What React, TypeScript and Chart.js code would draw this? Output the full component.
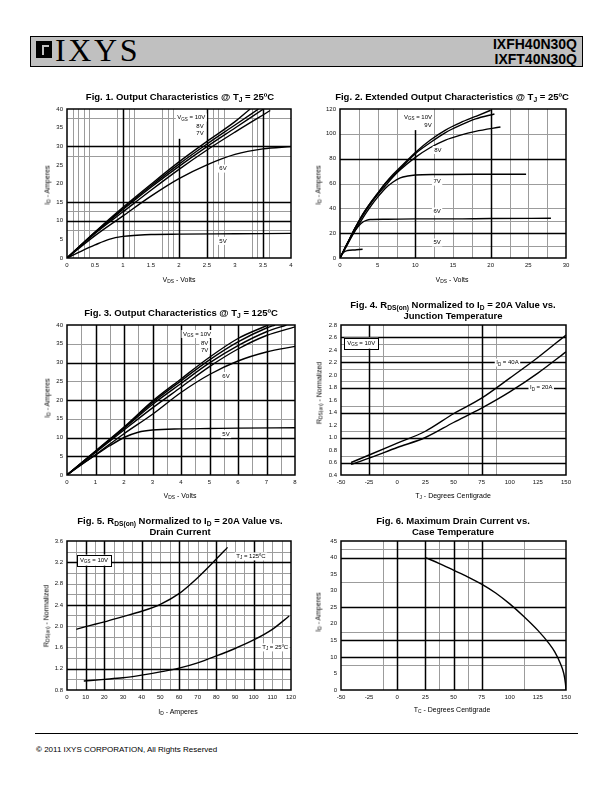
import React, { useEffect, useRef } from "react";
import { Chart, registerables } from "chart.js";

Chart.register(...registerables);

type Pt = [number, number];
type Seg = [number, number, number];
type Part = [string, boolean];
interface Note { x: number; y: number; parts: Part[]; box?: boolean }

const FONT = '"Liberation Sans", Arial, Helvetica, sans-serif';
const NARROW = '"Liberation Sans Narrow", "Arial Narrow", "Liberation Sans", Arial, sans-serif';

// ---------------- Fig. 1 : Output characteristics @ 25C ----------------
const fig1XTicks = [0, 0.5, 1, 1.5, 2, 2.5, 3, 3.5, 4];
const fig1XLabels = ["0", "0.5", "1", "1.5", "2", "2.5", "3", "3.5", "4"];
const fig1YTicks = [0, 5, 10, 15, 20, 25, 30, 35, 40];
const fig1YLabels = ["0", "5", "10", "15", "20", "25", "30", "35", "40"];
const fig1Vgs10: Pt[] = [[0, 0], [0.5, 7], [1, 13.6], [1.5, 19.8], [2, 25.8], [2.5, 31.3], [3, 36.6], [3.27, 40]];
const fig1Vgs9: Pt[] = [[0, 0], [0.5, 6.9], [1, 13.3], [1.5, 19.4], [2, 25.2], [2.5, 30.6], [3, 35.7], [3.42, 40]];
const fig1Vgs8: Pt[] = [[0, 0], [0.5, 6.8], [1, 13], [1.5, 19], [2, 24.6], [2.5, 29.9], [3, 34.9], [3.51, 40]];
const fig1Vgs7: Pt[] = [[0, 0], [0.5, 6.6], [1, 12.4], [1.5, 18.2], [2, 23.8], [2.5, 29], [3, 33.8], [3.63, 39.6]];
const fig1Vgs6: Pt[] = [[0, 0], [0.5, 6], [1, 11.3], [1.5, 16.6], [2, 21.3], [2.5, 25], [3, 27.8], [3.5, 29.3], [4, 29.9]];
const fig1Vgs5: Pt[] = [[0, 0], [0.25, 1.8], [0.5, 3.5], [0.75, 5], [1, 5.8], [1.25, 6.1], [1.5, 6.3], [2, 6.4], [3, 6.5], [4, 6.6]];
const fig1BlackX = [1, 2.5, 3.5];
const fig1GrayX = [0.1, 0.2, 0.3, 0.4, 0.9, 1.1, 1.2, 1.7, 1.8, 1.9, 2.6, 2.7, 2.8, 3.3, 3.4, 3.6];
const fig1BlackY = [10, 15, 30];
const fig1GrayY = [7.5, 12.5, 27.5, 37.5];
const fig1PartialX: Seg[] = [[2, 0, 32]];

// ---------------- Fig. 2 : Extended output characteristics ----------------
const fig2XTicks = [0, 5, 10, 15, 20, 25, 30];
const fig2XLabels = ["0", "5", "10", "15", "20", "25", "30"];
const fig2YTicks = [0, 20, 40, 60, 80, 100, 120];
const fig2YLabels = ["0", "20", "40", "60", "80", "100", "120"];
const fig2Vgs10: Pt[] = [[0, 0], [1, 12], [2, 24], [3, 35], [4, 44], [5, 52], [6, 60], [7, 67], [8, 73], [10, 85], [12, 95], [14, 103], [16, 109], [18, 114], [20, 119]];
const fig2Vgs9: Pt[] = [[0, 0], [1, 12], [2, 24], [3, 35], [4, 44], [5, 52], [6, 60], [7, 66], [8, 72], [10, 84], [12, 93], [14, 101], [16, 107], [18, 112], [20.5, 116]];
const fig2Vgs8: Pt[] = [[0, 0], [1, 12], [2, 24], [3, 34], [4, 43], [5, 51], [6, 58], [7, 65], [8, 71], [10, 81], [12, 89], [14, 95], [16, 99], [18, 102], [21.3, 105.5]];
const fig2Vgs7: Pt[] = [[0, 0], [1, 11], [2, 22], [3, 32], [4, 41], [5, 49], [6, 56], [7, 61], [8, 64.5], [9, 66], [10, 66.8], [13, 67.3], [18, 67.5], [24.7, 67.5]];
const fig2Vgs6: Pt[] = [[0, 0], [1, 12], [2, 22], [2.5, 26], [3, 28.8], [3.5, 30.3], [4, 31], [6, 31.2], [10, 31.5], [15, 31.5], [20, 31.8], [28, 32]];
const fig2Vgs5: Pt[] = [[0, 0], [0.3, 3.5], [0.6, 5.2], [1, 6], [2, 6.5], [3, 7]];
const fig2BlackX = [20];
const fig2GrayX = [2.5, 5, 7.5, 12.5, 15, 17.5, 22.5, 25, 27.5];
const fig2BlackY = [20, 80];
const fig2GrayY = [10, 30, 40, 60, 100];
const fig2PartialX: Seg[] = [[10, 0, 103]];

// ---------------- Fig. 3 : Output characteristics @ 125C ----------------
const fig3XTicks = [0, 1, 2, 3, 4, 5, 6, 7, 8];
const fig3XLabels = ["0", "1", "2", "3", "4", "5", "6", "7", "8"];
const fig3YTicks = [0, 5, 10, 15, 20, 25, 30, 35, 40];
const fig3YLabels = ["0", "5", "10", "15", "20", "25", "30", "35", "40"];
const fig3Vgs10: Pt[] = [[0, 0], [1, 6.4], [2, 12.8], [3, 19.7], [4, 25.6], [5, 31.4], [6, 36.4], [7.06, 40]];
const fig3Vgs9: Pt[] = [[0, 0], [1, 6.3], [2, 12.6], [3, 19.3], [4, 25.1], [5, 30.7], [6, 35.5], [7, 39.2], [7.3, 40]];
const fig3Vgs8: Pt[] = [[0, 0], [1, 6.2], [2, 12.4], [3, 18.8], [4, 24.4], [5, 29.9], [6, 34.5], [7, 38.2], [7.7, 40]];
const fig3Vgs7: Pt[] = [[0, 0], [1, 6], [2, 12], [3, 17.9], [4, 23.4], [5, 28.9], [6, 33.6], [7, 37.2], [8, 39.5]];
const fig3Vgs6: Pt[] = [[0, 0], [1, 5.4], [2, 11], [3, 16.2], [4, 22], [5, 26.8], [6, 30.4], [7, 32.8], [8, 34.3]];
const fig3Vgs5: Pt[] = [[0, 0], [0.5, 2.8], [1, 5.3], [1.5, 7.8], [2, 10], [2.5, 11.4], [3, 12], [4, 12.3], [5, 12.4], [6, 12.5], [8, 12.6]];
const fig3BlackX = [1, 2, 3, 4, 5, 6, 7];
const fig3GrayX = [0.5, 1.5, 2.5, 3.5, 4.5, 5.5, 6.5, 7.5];
const fig3BlackY = [5, 10, 20, 30];
const fig3GrayY = [15, 25, 35];
const fig3PartialX: Seg[] = [];

// ---------------- Fig. 4 : RDS(on) vs junction temperature ----------------
const fig4XTicks = [-50, -25, 0, 25, 50, 75, 100, 125, 150];
const fig4XLabels = ["-50", "-25", "0", "25", "50", "75", "100", "125", "150"];
const fig4YTicks = [0.4, 0.6, 0.8, 1.0, 1.2, 1.4, 1.6, 1.8, 2.0, 2.2, 2.4, 2.6, 2.8];
const fig4YLabels = ["0.4", "0.6", "0.8", "1.0", "1.2", "1.4", "1.6", "1.8", "2.0", "2.2", "2.4", "2.6", "2.8"];
const fig4Id40: Pt[] = [[-41, 0.6], [-25, 0.72], [0, 0.91], [25, 1.1], [50, 1.38], [75, 1.63], [100, 1.95], [125, 2.28], [150, 2.64]];
const fig4Id20: Pt[] = [[-41, 0.57], [-25, 0.67], [0, 0.84], [25, 1.0], [50, 1.24], [75, 1.47], [100, 1.73], [125, 2.03], [150, 2.37]];
const fig4BlackX = [-25, 75];
const fig4GrayX = [-12.5, 62.5, 87.5];
const fig4BlackY = [0.6, 1.0, 1.4, 1.8, 2.2, 2.6];
const fig4GrayY = [0.7, 1.1, 1.5, 1.9, 2.1, 2.3, 2.5];

// ---------------- Fig. 5 : RDS(on) vs drain current ----------------
const fig5XTicks = [0, 10, 20, 30, 40, 50, 60, 70, 80, 90, 100, 110, 120];
const fig5XLabels = ["0", "10", "20", "30", "40", "50", "60", "70", "80", "90", "100", "110", "120"];
const fig5YTicks = [0.8, 1.2, 1.6, 2.0, 2.4, 2.8, 3.2, 3.6];
const fig5YLabels = ["0.8", "1.2", "1.6", "2.0", "2.4", "2.8", "3.2", "3.6"];
const fig5Tj125: Pt[] = [[5, 1.94], [10, 1.99], [20, 2.08], [30, 2.18], [40, 2.28], [50, 2.41], [60, 2.61], [70, 2.91], [80, 3.26], [86, 3.48]];
const fig5Tj25: Pt[] = [[9, 0.97], [20, 1.0], [30, 1.03], [40, 1.08], [50, 1.14], [60, 1.21], [70, 1.31], [80, 1.44], [90, 1.58], [100, 1.74], [110, 1.94], [119, 2.19]];
const fig5BlackX = [10, 20, 40, 60, 80, 100];
const fig5GrayX = [5, 15, 25, 30, 35, 45, 50, 55, 65, 70, 75, 85, 90, 95, 105, 110, 115];
const fig5BlackY = [1.2, 2.4, 3.2];
const fig5GrayY = [1.0, 1.4, 1.6, 1.8, 2.0, 2.2, 2.6, 2.8, 3.0, 3.4];

// ---------------- Fig. 6 : Max drain current vs case temperature ----------------
const fig6XTicks = [-50, -25, 0, 25, 50, 75, 100, 125, 150];
const fig6XLabels = ["-50", "-25", "0", "25", "50", "75", "100", "125", "150"];
const fig6YTicks = [0, 5, 10, 15, 20, 25, 30, 35, 40, 45];
const fig6YLabels = ["0", "5", "10", "15", "20", "25", "30", "35", "40", "45"];
const fig6Id: Pt[] = [[25, 40], [37.5, 38.2], [50, 36.2], [62.5, 34.2], [75, 32], [87.5, 29.3], [100, 26], [112.5, 22.2], [125, 18], [135, 14], [140, 11.5], [145, 8], [148, 5], [149.5, 2], [150, 0]];
const fig6BlackX = [0, 25, 50, 75];
const fig6GrayX = [-12.5, 37.5, 62.5, 112.5];
const fig6BlackY = [10, 15, 25, 40];
const fig6GrayY = [7.5, 17.5, 32.5, 42.5];

// ---------------- in-plot labels ----------------
const vgs10: Part[] = [["V", false], ["GS", true], [" = 10V", false]];
const fig1Notes: Note[] = [
  { x: 1.97, y: 37.7, parts: vgs10 },
  { x: 2.31, y: 35.4, parts: [["8V", false]] },
  { x: 2.31, y: 33.5, parts: [["7V", false]] },
  { x: 2.72, y: 24, parts: [["6V", false]] },
  { x: 2.72, y: 4.6, parts: [["5V", false]] },
];
const fig2Notes: Note[] = [
  { x: 8.5, y: 113.5, parts: vgs10 },
  { x: 11.2, y: 107, parts: [["9V", false]] },
  { x: 12.5, y: 87, parts: [["8V", false]] },
  { x: 12.4, y: 61.5, parts: [["7V", false]] },
  { x: 12.4, y: 37.5, parts: [["6V", false]] },
  { x: 12.4, y: 12.5, parts: [["5V", false]] },
];
const fig3Notes: Note[] = [
  { x: 4.07, y: 37.6, parts: vgs10 },
  { x: 4.7, y: 35.2, parts: [["8V", false]] },
  { x: 4.7, y: 33.3, parts: [["7V", false]] },
  { x: 5.45, y: 26.4, parts: [["6V", false]] },
  { x: 5.45, y: 10.9, parts: [["5V", false]] },
];
const fig4Notes: Note[] = [
  { x: -44.5, y: 2.51, parts: vgs10, box: true },
  { x: 88, y: 2.2, parts: [["I", false], ["D", true], [" = 40A", false]] },
  { x: 118, y: 1.8, parts: [["I", false], ["D", true], [" = 20A", false]] },
];
const fig5Notes: Note[] = [
  { x: 7, y: 3.24, parts: vgs10, box: true },
  { x: 90.7, y: 3.31, parts: [["T", false], ["J", true], [" = 125ºC", false]] },
  { x: 104.6, y: 1.6, parts: [["T", false], ["J", true], [" = 25ºC", false]] },
];

interface Spec {
  plot: [number, number, number, number];
  xTicks: number[]; xLabels: string[];
  yTicks: number[]; yLabels: string[];
  series: Pt[][];
  blackX: number[]; grayX: number[]; blackY: number[]; grayY: number[];
  partialX?: Seg[];
  notes?: Note[];
}

const PAD_L = 30, PAD_T = 8, PAD_R = 12, PAD_B = 16;

function ChartPanel({ spec }: { spec: Spec }) {
  const ref = useRef<HTMLCanvasElement>(null);
  const [l, t, r, b] = spec.plot;
  const w = r - l + PAD_L + PAD_R;
  const h = b - t + PAD_T + PAD_B;
  useEffect(() => {
    const gridPlugin = {
      id: "sheetGrid",
      beforeDatasetsDraw(chart: any) {
        const { ctx, chartArea, scales } = chart;
        const xs = scales.x, ys = scales.y;
        const { left, top, right, bottom } = chartArea;
        ctx.save();
        const vline = (v: number, y0?: number, y1?: number) => {
          const px = Math.round(xs.getPixelForValue(v)) + 0.5;
          const a = y1 === undefined ? top : ys.getPixelForValue(y1);
          const z = y0 === undefined ? bottom : ys.getPixelForValue(y0);
          ctx.beginPath(); ctx.moveTo(px, a); ctx.lineTo(px, z); ctx.stroke();
        };
        const hline = (v: number) => {
          const py = Math.round(ys.getPixelForValue(v)) + 0.5;
          ctx.beginPath(); ctx.moveTo(left, py); ctx.lineTo(right, py); ctx.stroke();
        };
        ctx.strokeStyle = "#9c9c9c"; ctx.lineWidth = 1;
        spec.grayX.forEach((v) => vline(v));
        spec.grayY.forEach((v) => hline(v));
        ctx.strokeStyle = "#000"; ctx.lineWidth = 1.5;
        spec.blackX.forEach((v) => vline(v));
        spec.blackY.forEach((v) => hline(v));
        (spec.partialX || []).forEach(([v, a, z]) => vline(v, a, z));
        ctx.restore();
      },
      afterDatasetsDraw(chart: any) {
        const { ctx, chartArea, scales } = chart;
        const { left, top, right, bottom } = chartArea;
        ctx.save();
        ctx.strokeStyle = "#000"; ctx.lineWidth = 1.5;
        ctx.strokeRect(left, top, right - left, bottom - top);
        (spec.notes || []).forEach((n) => {
          const px = scales.x.getPixelForValue(n.x);
          const py = scales.y.getPixelForValue(n.y);
          const big = `6px ${FONT}`, small = `4.5px ${FONT}`;
          let wsum = 0;
          const widths = n.parts.map(([s, sub]) => { ctx.font = sub ? small : big; const m = ctx.measureText(s).width; wsum += m; return m; });
          const padX = n.box ? 3 : 1.5;
          ctx.fillStyle = "#fff";
          ctx.fillRect(px - padX, py - (n.box ? 5.5 : 4), wsum + 2 * padX, n.box ? 11 : 8);
          if (n.box) { ctx.lineWidth = 1; ctx.strokeRect(Math.round(px - padX) + 0.5, Math.round(py - 5.5) + 0.5, Math.round(wsum + 2 * padX), 11); }
          ctx.fillStyle = "#000"; ctx.textBaseline = "middle"; ctx.textAlign = "left";
          let cx = px;
          n.parts.forEach(([s, sub], i) => { ctx.font = sub ? small : big; ctx.fillText(s, cx, sub ? py + 1.8 : py); cx += widths[i]; });
        });
        ctx.restore();
      },
    };
    const tickFont = { family: FONT, size: 6 };
    const chart = new Chart(ref.current as HTMLCanvasElement, {
      type: "scatter",
      data: {
        datasets: spec.series.map((s) => ({
          data: s.map(([x, y]) => ({ x, y })),
          showLine: true,
          borderColor: "#000",
          backgroundColor: "#000",
          borderWidth: 1.4,
          pointRadius: 0,
          cubicInterpolationMode: "monotone" as const,
          fill: false,
        })),
      },
      options: {
        animation: false,
        responsive: false,
        devicePixelRatio: 1,
        layout: { padding: { left: 0, top: PAD_T, right: PAD_R, bottom: 0 } },
        plugins: { legend: { display: false }, tooltip: { enabled: false }, title: { display: false } },
        scales: {
          x: {
            type: "linear",
            min: spec.xTicks[0],
            max: spec.xTicks[spec.xTicks.length - 1],
            grid: { display: false, drawTicks: false },
            border: { display: false },
            ticks: { autoSkip: false, maxRotation: 0, padding: 4, color: "#111", font: tickFont, callback: (_v: any, i: number) => spec.xLabels[i] },
            afterBuildTicks: (s: any) => { s.ticks = spec.xTicks.map((v) => ({ value: v })); },
            afterFit: (s: any) => { s.height = PAD_B; },
          },
          y: {
            type: "linear",
            min: spec.yTicks[0],
            max: spec.yTicks[spec.yTicks.length - 1],
            grid: { display: false, drawTicks: false },
            border: { display: false },
            ticks: { autoSkip: false, padding: 4, color: "#111", font: tickFont, callback: (_v: any, i: number) => spec.yLabels[i] },
            afterBuildTicks: (s: any) => { s.ticks = spec.yTicks.map((v) => ({ value: v })); },
            afterFit: (s: any) => { s.width = PAD_L; },
          },
        },
      },
      plugins: [gridPlugin],
    } as any);
    return () => chart.destroy();
  }, []);
  return (
    <canvas
      ref={ref}
      width={w}
      height={h}
      style={{ position: "absolute", left: l - PAD_L, top: t - PAD_T, width: w, height: h }}
    />
  );
}

const subS: React.CSSProperties = { fontSize: "0.7em", verticalAlign: "-0.3em", lineHeight: 0 };

function Title({ x, y, children }: { x: number; y: number; children: React.ReactNode }) {
  return (
    <div style={{ position: "absolute", left: x, top: y, transform: "translate(-50%,-50%)", whiteSpace: "nowrap", fontFamily: NARROW, fontWeight: "bold", fontSize: 9.5, lineHeight: 1, color: "#000", willChange: "transform" }}>
      {children}
    </div>
  );
}

function AxisTitle({ x, y, rot, children }: { x: number; y: number; rot?: boolean; children: React.ReactNode }) {
  return (
    <div style={{ position: "absolute", left: x, top: y, transform: `translate(-50%,-50%)${rot ? " rotate(-90deg)" : ""}`, whiteSpace: "nowrap", fontFamily: FONT, fontSize: 7, lineHeight: 1, color: "#000", willChange: "transform" }}>
      {children}
    </div>
  );
}

const specs: Spec[] = [
  { plot: [67, 109, 291, 258], xTicks: fig1XTicks, xLabels: fig1XLabels, yTicks: fig1YTicks, yLabels: fig1YLabels,
    series: [fig1Vgs10, fig1Vgs9, fig1Vgs8, fig1Vgs7, fig1Vgs6, fig1Vgs5], blackX: fig1BlackX, grayX: fig1GrayX, blackY: fig1BlackY, grayY: fig1GrayY, partialX: fig1PartialX, notes: fig1Notes },
  { plot: [340, 109, 566, 258], xTicks: fig2XTicks, xLabels: fig2XLabels, yTicks: fig2YTicks, yLabels: fig2YLabels,
    series: [fig2Vgs10, fig2Vgs9, fig2Vgs8, fig2Vgs7, fig2Vgs6, fig2Vgs5], blackX: fig2BlackX, grayX: fig2GrayX, blackY: fig2BlackY, grayY: fig2GrayY, partialX: fig2PartialX, notes: fig2Notes },
  { plot: [67, 325, 295, 475], xTicks: fig3XTicks, xLabels: fig3XLabels, yTicks: fig3YTicks, yLabels: fig3YLabels,
    series: [fig3Vgs10, fig3Vgs9, fig3Vgs8, fig3Vgs7, fig3Vgs6, fig3Vgs5], blackX: fig3BlackX, grayX: fig3GrayX, blackY: fig3BlackY, grayY: fig3GrayY, partialX: fig3PartialX, notes: fig3Notes },
  { plot: [341, 325, 566, 475], xTicks: fig4XTicks, xLabels: fig4XLabels, yTicks: fig4YTicks, yLabels: fig4YLabels,
    series: [fig4Id40, fig4Id20], blackX: fig4BlackX, grayX: fig4GrayX, blackY: fig4BlackY, grayY: fig4GrayY, notes: fig4Notes },
  { plot: [67, 541, 291, 690], xTicks: fig5XTicks, xLabels: fig5XLabels, yTicks: fig5YTicks, yLabels: fig5YLabels,
    series: [fig5Tj125, fig5Tj25], blackX: fig5BlackX, grayX: fig5GrayX, blackY: fig5BlackY, grayY: fig5GrayY, notes: fig5Notes },
  { plot: [341, 541, 566, 690], xTicks: fig6XTicks, xLabels: fig6XLabels, yTicks: fig6YTicks, yLabels: fig6YLabels,
    series: [fig6Id], blackX: fig6BlackX, grayX: fig6GrayX, blackY: fig6BlackY, grayY: fig6GrayY },
];

export default function App() {
  return (
    <div style={{ position: "absolute", left: 0, top: 0, width: 612, height: 792, background: "#fff", overflow: "hidden" }}>
      {/* header */}
      <div style={{ position: "absolute", left: 30, top: 36, width: 551, height: 29, background: "#c0c0c0", border: "1px solid #000" }} />
      <div style={{ position: "absolute", left: 36, top: 41, width: 16, height: 17, background: "#000" }} />
      <div style={{ position: "absolute", left: 42, top: 45, width: 7, height: 2, background: "#c0c0c0" }} />
      <div style={{ position: "absolute", left: 42, top: 45, width: 2, height: 10, background: "#c0c0c0" }} />
      <div style={{ position: "absolute", left: 55, top: 34, fontFamily: '"Liberation Serif", "Times New Roman", serif', fontSize: 32, lineHeight: "33px", letterSpacing: 2.6, color: "#000" }}>IXYS</div>
      <div style={{ position: "absolute", right: 35, top: 37, textAlign: "right", fontFamily: FONT, fontWeight: "bold", fontSize: 14, lineHeight: "15px", color: "#000" }}>
        <div>IXFH40N30Q</div>
        <div>IXFT40N30Q</div>
      </div>

      {/* titles */}
      <Title x={180} y={97}>Fig. 1. Output Characteristics @ T<span style={subS}>J</span> = 25ºC</Title>
      <Title x={452} y={97}>Fig. 2. Extended Output Characteristics @ T<span style={subS}>J</span> = 25ºC</Title>
      <Title x={181} y={313}>Fig. 3. Output Characteristics @ T<span style={subS}>J</span> = 125ºC</Title>
      <Title x={453} y={305}>Fig. 4. R<span style={subS}>DS(on)</span> Normalized to I<span style={subS}>D</span> = 20A Value vs.</Title>
      <Title x={453} y={316}>Junction Temperature</Title>
      <Title x={180} y={521}>Fig. 5. R<span style={subS}>DS(on)</span> Normalized to I<span style={subS}>D</span> = 20A Value vs.</Title>
      <Title x={180} y={532}>Drain Current</Title>
      <Title x={453} y={521}>Fig. 6. Maximum Drain Current vs.</Title>
      <Title x={453} y={532}>Case Temperature</Title>

      {specs.map((s, i) => <ChartPanel key={i} spec={s} />)}

      {/* axis titles */}
      <AxisTitle x={179} y={279}>V<span style={subS}>DS</span> - Volts</AxisTitle>
      <AxisTitle x={47} y={185} rot>I<span style={subS}>D</span> - Amperes</AxisTitle>
      <AxisTitle x={452} y={279}>V<span style={subS}>DS</span> - Volts</AxisTitle>
      <AxisTitle x={318} y={185} rot>I<span style={subS}>D</span> - Amperes</AxisTitle>
      <AxisTitle x={180} y={495}>V<span style={subS}>DS</span> - Volts</AxisTitle>
      <AxisTitle x={47} y={398} rot>I<span style={subS}>D</span> - Amperes</AxisTitle>
      <AxisTitle x={453} y={495}>T<span style={subS}>J</span> - Degrees Centigrade</AxisTitle>
      <AxisTitle x={319} y={393} rot>R<span style={subS}>DS(on)</span> - Normalized</AxisTitle>
      <AxisTitle x={178} y={711}>I<span style={subS}>D</span> - Amperes</AxisTitle>
      <AxisTitle x={46} y={616} rot>R<span style={subS}>DS(on)</span> - Normalized</AxisTitle>
      <AxisTitle x={452} y={709}>T<span style={subS}>C</span> - Degrees Centigrade</AxisTitle>
      <AxisTitle x={318} y={612} rot>I<span style={subS}>D</span> - Amperes</AxisTitle>

      {/* footer */}
      <div style={{ position: "absolute", left: 35, top: 733, width: 543, height: 1, background: "#000" }} />
      <div style={{ position: "absolute", left: 36, top: 745, fontFamily: FONT, fontSize: 8, lineHeight: "10px", color: "#000" }}>
        <b>©</b> 2011 IXYS CORPORATION, All Rights Reserved
      </div>
    </div>
  );
}
